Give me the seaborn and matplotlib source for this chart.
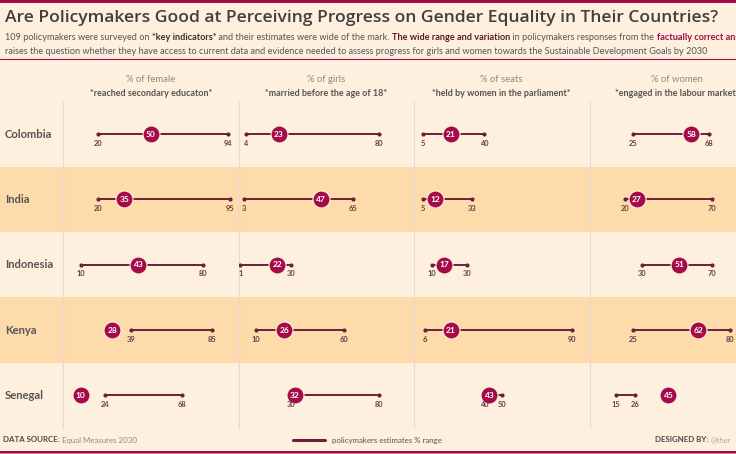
import numpy as np
import pandas as pd
import matplotlib
matplotlib.use('Agg')
import matplotlib.pyplot as plt
import seaborn as sns

# data
countries = ['Colombia', 'India', 'Indonesia', 'Kenya', 'Senegal']
ind_top = ['% of female', '% of girls', '% of seats', '% of women']
ind_sub = ['*reached secondary educaton*', '*married before the age of 18*',
           '*held by women in the parliament*', '*engaged in the labour market*']

educ_actual = [50, 35, 43, 28, 10]
educ_low = [20, 20, 10, 39, 24]
educ_high = [94, 95, 80, 85, 68]

marr_actual = [23, 47, 22, 26, 32]
marr_low = [4, 3, 1, 10, 30]
marr_high = [80, 65, 30, 60, 80]

parl_actual = [21, 12, 17, 21, 43]
parl_low = [5, 5, 10, 6, 40]
parl_high = [40, 33, 30, 90, 50]

lab_actual = [58, 27, 51, 62, 45]
lab_low = [25, 20, 30, 25, 15]
lab_high = [68, 70, 70, 80, 26]

actuals = [educ_actual, marr_actual, parl_actual, lab_actual]
lows = [educ_low, marr_low, parl_low, lab_low]
highs = [educ_high, marr_high, parl_high, lab_high]

# colours
light = '#FEF0DE'
dark = '#FDDBAB'
crimson = '#A50B48'
maroon = '#6E1F38'
numc = '#6B3A48'
grey = '#8A8A8A'

sns.set_theme(style='white')
plt.rcParams['font.family'] = ['Lato', 'DejaVu Sans']

W, H = 736, 454
fig = plt.figure(figsize=(W / 100, H / 100), dpi=100)
fig.patch.set_facecolor(light)

# background axes in pixel units for bands, text and rules
bg = fig.add_axes([0, 0, 1, 1])
bg.set_xlim(0, W)
bg.set_ylim(H, 0)
bg.axis('off')
bg.set_zorder(0)

top, bottom = 101.5, 428
row_h = (bottom - top) / len(countries)
col_left, col_w = 63, 175.5

for i in range(len(countries)):
    if i % 2 == 1:
        bg.axhspan(top + i * row_h, top + (i + 1) * row_h, color=dark, lw=0)
    bg.text(5, top + (i + 0.5) * row_h, countries[i], fontsize=8.1,
            fontweight='bold', color='#555555', va='center', ha='left')

for j in range(4):
    x0 = col_left + j * col_w
    bg.plot([x0, x0], [top, bottom], color='#E8DBCB', lw=0.9)
    bg.text(x0 + col_w / 2, 80, ind_top[j], fontsize=6.8, color=grey,
            ha='center', va='center')
    bg.text(x0 + col_w / 2, 93, ind_sub[j], fontsize=6.5, fontweight='bold',
            color='#555555', ha='center', va='center')

# rules top / below subtitle / bottom
bg.axhspan(0, 2.5, color=crimson, lw=0)
bg.plot([0, W], [58.5, 58.5], color=crimson, lw=0.8)
bg.axhspan(450.5, 452.5, color=crimson, lw=0)
bg.axhspan(452.5, 454, color='#D9779B', lw=0)

renderer = fig.canvas.get_renderer()


def rich_line(x, y, parts, size):
    for s, weight, color in parts:
        t = bg.text(x, y, s, fontsize=size, fontweight=weight, color=color,
                    ha='left', va='center')
        x += t.get_window_extent(renderer).width


bg.text(5, 18, 'Are Policymakers Good at Perceiving Progress on Gender Equality in Their Countries?',
        fontsize=12.6, fontweight='semibold', color='#3F3F3F', ha='left', va='center',
        family=['Open Sans', 'DejaVu Sans'])

sub = 6.6
rich_line(5, 37.5, [('109 policymakers were surveyed on ', 'normal', '#555555'),
                    ('*key indicators*', 'bold', '#333333'),
                    (' and their estimates were wide of the mark. ', 'normal', '#555555'),
                    ('The wide range and variation', 'bold', '#5A1A2E'),
                    (' in policymakers responses from the ', 'normal', '#555555'),
                    ('factually correct answers', 'bold', crimson)], sub)
bg.text(5, 51, 'raises the question whether they have access to current data and evidence '
        'needed to assess progress for girls and women towards the Sustainable '
        'Development Goals by 2030', fontsize=sub, color='#555555', ha='left', va='center')

# footer
rich_line(3, 440, [('DATA SOURCE: ', 'bold', '#4A4A4A'),
                   ('Equal Measures 2030', 'normal', grey)], 5.7)
bg.plot([293, 325], [440, 440], color=maroon, lw=2.2)
bg.text(332, 440, 'policymakers estimates % range', fontsize=5.7, color='#555555',
        ha='left', va='center')
rich_line(655, 440, [('DESIGNED BY: ', 'bold', '#4A4A4A'),
                     ('@ther', 'normal', '#AAAAAA')], 5.7)

# one axes per indicator, each on a 0-100 scale
rows = np.arange(len(countries))
for j in range(4):
    x0 = col_left + j * col_w
    ax = fig.add_axes([x0 / W, 1 - bottom / H, col_w / W, (bottom - top) / H])
    ax.set_zorder(1)
    ax.patch.set_alpha(0)
    ax.set_xlim(0, 100)
    ax.set_ylim(len(countries) - 0.5, -0.5)
    ax.axis('off')

    df = pd.DataFrame({'row': rows, 'actual': actuals[j],
                       'low': lows[j], 'high': highs[j]})
    ends = pd.concat([df[['row', 'low']].rename(columns={'low': 'v'}),
                      df[['row', 'high']].rename(columns={'high': 'v'})])

    ax.hlines(df['row'], df['low'], df['high'], color=maroon, lw=1.4, zorder=2)
    sns.scatterplot(data=ends, x='v', y='row', s=9, color=maroon, edgecolor=maroon,
                    linewidth=0, legend=False, ax=ax, zorder=2)
    sns.scatterplot(data=df, x='actual', y='row', s=150, color=crimson,
                    edgecolor=light, linewidth=0.8, legend=False, ax=ax, zorder=3)

    for _, r in ends.iterrows():
        ax.annotate(str(r['v']), (r['v'], r['row']), xytext=(0, -6.5),
                    textcoords='offset points', ha='center', va='center',
                    fontsize=5.4, fontweight='bold', color=numc, zorder=4)
    for _, r in df.iterrows():
        ax.text(r['actual'], r['row'], str(r['actual']), ha='center', va='center',
                fontsize=6, fontweight='bold', color='white', zorder=5)

fig.savefig('out.png', dpi=100, facecolor=light)
